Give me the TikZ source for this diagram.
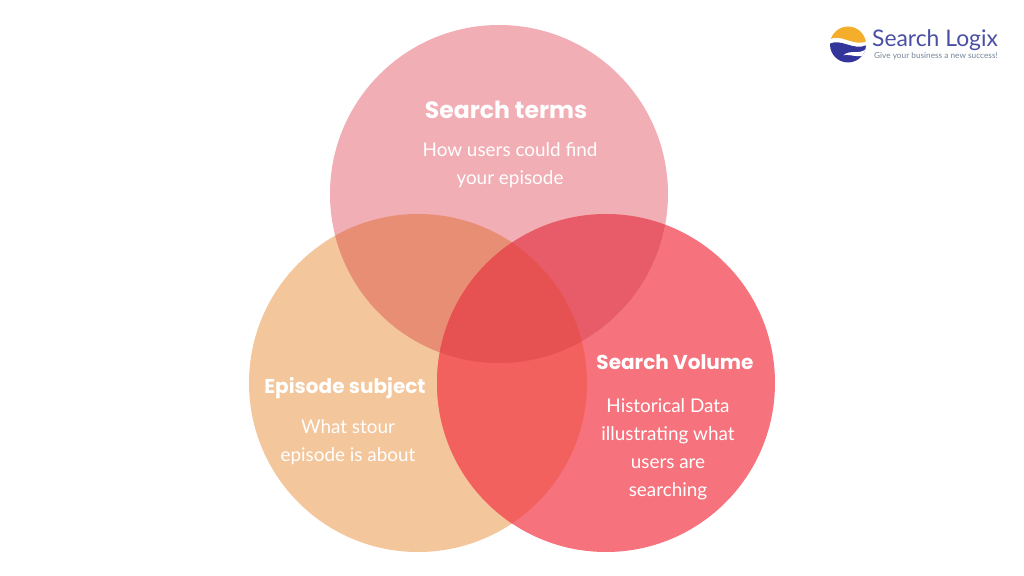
\documentclass[tikz,border=0pt]{standalone}
\usepackage{fontspec}
\setmainfont{Poppins}
\newfontfamily\logofont{Lato}
\usepackage{xcolor}
\usepackage{tikz}
\definecolor{termscol}{HTML}{F1AEB5}
\definecolor{subjectcol}{HTML}{F3C69B}
\definecolor{volumecol}{HTML}{F6737E}
\definecolor{termssubject}{HTML}{E88E75}
\definecolor{termsvolume}{HTML}{E85B69}
\definecolor{subjectvolume}{HTML}{F2615E}
\definecolor{allthree}{HTML}{E65252}
\definecolor{logoblue}{HTML}{4A4FA3}
\definecolor{logodark}{HTML}{34359A}
\definecolor{logogold}{HTML}{F5AE2B}
\definecolor{logogray}{HTML}{75859A}
\tikzset{
    heading/.style={text=white, font=\fontsize{#1}{16}\selectfont\bfseries},
    bodytext/.style={text=white, font=\fontsize{10.75}{16}\selectfont\fontspec{Lato}, align=center},
}
\newcommand{\termscircle}{(9.98,7.64) circle (3.38)}
\newcommand{\subjectcircle}{(8.36,3.86) circle (3.38)}
\newcommand{\volumecircle}{(12.12,3.86) circle (3.38)}

\begin{document}
\begin{tikzpicture}
\useasboundingbox (0,0) rectangle (20.48,11.52);

% Circles
\fill[subjectcol] \subjectcircle;
\fill[volumecol] \volumecircle;
\fill[termscol] \termscircle;

% Overlaps
\begin{scope}
    \clip \termscircle;
    \fill[termssubject] \subjectcircle;
    \fill[termsvolume] \volumecircle;
\end{scope}
\begin{scope}
    \clip \subjectcircle;
    \fill[subjectvolume] \volumecircle;
    \clip \termscircle;
    \fill[allthree] \volumecircle;
\end{scope}

% Labels
\node[heading=13.4] (terms) at (10.12,9.33) {Search terms};
\node[bodytext] (termstext) at (10.2,8.21) {How users could find\\your episode};
\node[heading=11.4] (subject) at (6.9,3.76) {Episode subject};
\node[bodytext] (subjecttext) at (6.96,2.68) {What stour\\episode is about};
\node[heading=11.4] (volume) at (13.5,4.28) {Search Volume};
\node[bodytext] (volumetext) at (13.36,2.54) {Historical Data\\illustrating what\\users are\\searching};

% Logo
\begin{scope}[shift={(16.96,10.63)}, scale=0.36]
    \clip (0,0) circle (1);
    \fill[logogold] (-1,0.3) .. controls (-0.4,0.6) and (0.3,-0.1) .. (1,0.15) -- (1,1) -- (-1,1) -- cycle;
    \fill[logodark] (-1,0.05) .. controls (-0.4,0.35) and (0.3,-0.35) .. (1,-0.05) -- (1,-1) -- (-1,-1) -- cycle;
    \fill[white] (-0.25,-0.6) .. controls (0.1,-0.25) and (0.6,-0.6) .. (1,-0.25) -- (1,-0.55) .. controls (0.6,-0.8) and (0.1,-0.5) .. (-0.25,-0.6) -- cycle;
\end{scope}
\node[text=logoblue, font=\fontsize{13}{13}\selectfont\logofont, anchor=west] (logo) at (17.32,10.72) {Search Logix};
\node[text=logogray, font=\fontsize{4.7}{5}\selectfont\logofont, anchor=west] (slogan) at (17.36,10.4) {Give your business a new success!};
\end{tikzpicture}
\end{document}
